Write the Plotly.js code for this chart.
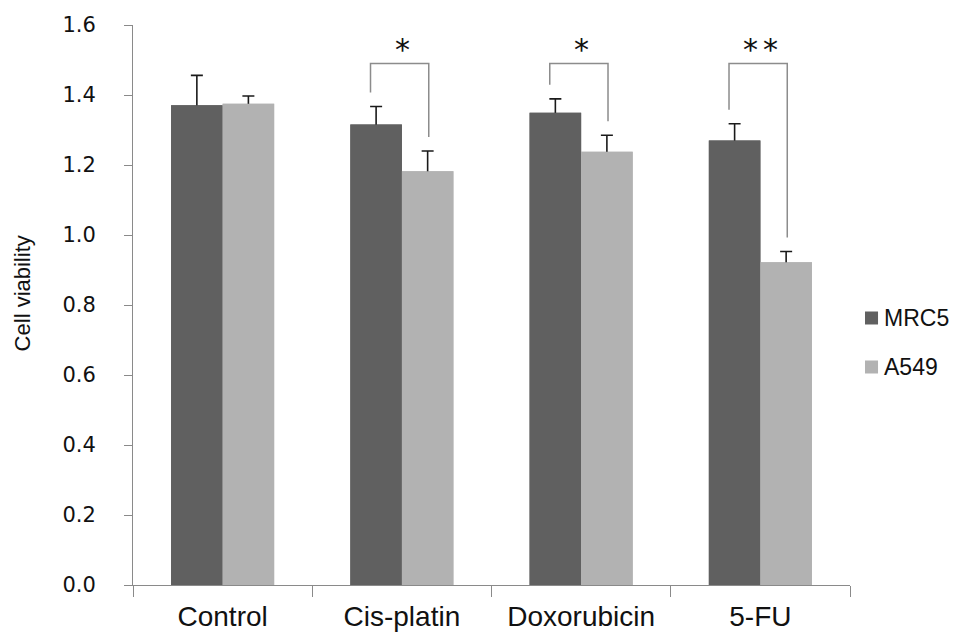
<!DOCTYPE html>
<html>
<head>
<meta charset="utf-8">
<script src="https://cdn.plot.ly/plotly-3.0.1.min.js"></script>
<style>html,body{margin:0;padding:0;background:#fff;}#chart{width:956px;height:634px;}</style>
</head>
<body>
<div id="chart"></div>
<script>
// ---- data ----
const categories = ["Control", "Cis-platin", "Doxorubicin", "5-FU"];
const seriesNames = ["MRC5", "A549"];
const mrc5Values = [1.371, 1.316, 1.349, 1.270];
const mrc5ErrTop = [1.456, 1.367, 1.389, 1.318];
const a549Values = [1.375, 1.182, 1.238, 0.922];
const a549ErrTop = [1.397, 1.240, 1.285, 0.953];
const significance = ["", "*", "*", "*\u2006*"];
const yTicks = [0, 0.2, 0.4, 0.6, 0.8, 1.0, 1.2, 1.4, 1.6];

// ---- styling ----
const colMRC5 = "#606060";
const colA549 = "#b2b2b2";
const seriesColors = [colMRC5, colA549];
const axisCol = "#8a8a8a";
const bracketCol = "#8c8c8c";
const bracketTop = 1.49;
const legGap = 0.04;
const legOffsetL = -0.175, legOffsetR = 0.15;
const hideCap = 0.03; // lower cap tucked inside the bar, then covered

function errPlus(vals, tops){ return vals.map((v,i)=>tops[i]-v); }
const minus = categories.map(()=>hideCap);

const errStyle = {color:"#1a1a1a", thickness:1.6, width:6};
const traces = [
  {type:"bar", name:seriesNames[0], x:categories, y:mrc5Values, xaxis:"x", yaxis:"y",
   marker:{color:colMRC5},
   error_y:Object.assign({type:"data", symmetric:false, array:errPlus(mrc5Values,mrc5ErrTop), arrayminus:minus}, errStyle)},
  {type:"bar", name:seriesNames[1], x:categories, y:a549Values, xaxis:"x", yaxis:"y",
   marker:{color:colA549},
   error_y:Object.assign({type:"data", symmetric:false, array:errPlus(a549Values,a549ErrTop), arrayminus:minus}, errStyle)},
  {type:"bar", name:seriesNames[0], x:categories, y:mrc5Values, xaxis:"x2", yaxis:"y2",
   marker:{color:colMRC5}},
  {type:"bar", name:seriesNames[1], x:categories, y:a549Values, xaxis:"x2", yaxis:"y2",
   marker:{color:colA549}}
];

const shapes = [];
const annotations = [];
significance.forEach((s,i)=>{
  if(!s) return;
  const xl = i + legOffsetL, xr = i + legOffsetR;
  const yl = mrc5ErrTop[i] + legGap, yr = a549ErrTop[i] + legGap;
  shapes.push({type:"path", xref:"x", yref:"y",
    path:`M ${xl},${yl} L ${xl},${bracketTop} L ${xr},${bracketTop} L ${xr},${yr}`,
    line:{color:bracketCol, width:1.5}});
  annotations.push({xref:"x", yref:"y", x:i + 0.003, y:bracketTop + 0.04, text:s, showarrow:false,
    yanchor:"middle", xanchor:"center",
    font:{family:"DejaVu Sans, sans-serif", size:30, color:"#111"}});
});
annotations.push({xref:"paper", yref:"paper", x:-0.154, y:0.52, text:"Cell viability", showarrow:false,
  textangle:-90, xanchor:"center", yanchor:"middle",
  font:{family:"Liberation Sans, Arial, sans-serif", size:22, color:"#111"}});

// legend drawn as keys + labels to the right of the plot
const legX0 = 1.0209, legX1 = 1.0391, legTextX = 1.0446;
const legRowsY = [0.4768, 0.3893], legHalf = 0.0116;
seriesNames.forEach((nm,k)=>{
  shapes.push({type:"rect", xref:"paper", yref:"paper", x0:legX0, x1:legX1,
    y0:legRowsY[k]-legHalf, y1:legRowsY[k]+legHalf, fillcolor:seriesColors[k], line:{width:0}});
  annotations.push({xref:"paper", yref:"paper", x:legTextX, y:legRowsY[k], text:nm, showarrow:false,
    xanchor:"left", yanchor:"middle",
    font:{family:"Liberation Sans, Arial, sans-serif", size:23, color:"#111"}});
});

const layout = {
  width:956, height:634,
  margin:{l:133, r:106, t:25, b:49},
  paper_bgcolor:"#fff", plot_bgcolor:"#fff",
  barmode:"group", bargap:0.425, bargroupgap:0,
  showlegend:false,
  xaxis:{type:"category", showline:true, linecolor:axisCol, linewidth:1,
         ticks:"outside", tickson:"boundaries", ticklen:11, tickcolor:axisCol,
         showgrid:false, zeroline:false, range:[-0.5,3.5], ticklabelstandoff:6,
         tickfont:{family:"Liberation Sans, Arial, sans-serif", size:28, color:"#111"}},
  yaxis:{range:[0,1.6], tickvals:yTicks, tickformat:".1f", showline:true, linecolor:axisCol, linewidth:1,
         ticks:"outside", ticklen:8, tickcolor:axisCol, showgrid:false, zeroline:false,
         ticklabelstandoff:24,
         tickfont:{family:"DejaVu Sans, Verdana, sans-serif", size:21, color:"#111"}},
  xaxis2:{type:"category", overlaying:"x", range:[-0.5,3.5], visible:false, showgrid:false, zeroline:false},
  yaxis2:{overlaying:"y", range:[0,1.6], visible:false, showgrid:false, zeroline:false},
  shapes:shapes, annotations:annotations
};

Plotly.newPlot("chart", traces, layout, {displayModeBar:false, staticPlot:true});
</script>
</body>
</html>
